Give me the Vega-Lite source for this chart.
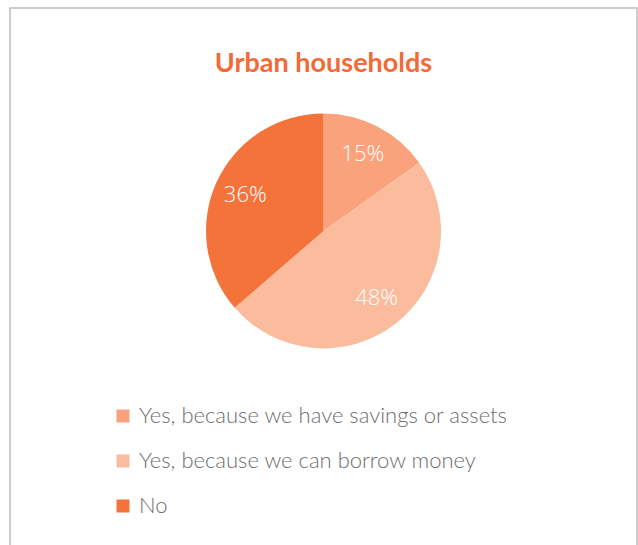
{
  "$schema": "https://vega.github.io/schema/vega-lite/v6.json",
  "width": 627,
  "height": 560,
  "autosize": {"type": "none"},
  "padding": {"left": 10, "top": 8, "right": 1, "bottom": 0},
  "background": "white",
  "title": {
    "text": "Urban households",
    "orient": "top",
    "anchor": "middle",
    "offset": -91,
    "baseline": "alphabetic",
    "font": "Lato",
    "fontSize": 27,
    "fontWeight": "bold",
    "color": "#F26A37"
  },
  "config": {
    "view": {"stroke": "#BDBDBD", "strokeWidth": 1.5},
    "legend": {
      "orient": "none",
      "legendX": 102,
      "legendY": 397,
      "title": null,
      "symbolType": "square",
      "symbolSize": 169,
      "symbolStrokeWidth": 0,
      "labelFont": "Lato",
      "labelFontWeight": 300,
      "labelFontSize": 22,
      "labelColor": "#6E6E6E",
      "labelOffset": 5,
      "rowPadding": 23,
      "labelLimit": 500
    }
  },
  "data": {
    "values": [
      {"answer": "Yes, because we have savings or assets", "pct": 15, "label": "15%", "order": 1},
      {"answer": "Yes, because we can borrow money", "pct": 48, "label": "48%", "order": 2},
      {"answer": "No", "pct": 36, "label": "36%", "order": 3}
    ]
  },
  "encoding": {
    "theta": {"field": "pct", "type": "quantitative", "stack": true},
    "order": {"field": "order", "type": "quantitative"},
    "x": {"datum": 0.5, "type": "quantitative", "scale": {"domain": [0, 1]}, "axis": null},
    "y": {"datum": 0.602, "type": "quantitative", "scale": {"domain": [0, 1]}, "axis": null}
  },
  "layer": [
    {
      "mark": {"type": "arc", "radius": 117.5, "stroke": null},
      "encoding": {
        "color": {
          "field": "answer",
          "type": "nominal",
          "sort": ["Yes, because we have savings or assets", "Yes, because we can borrow money", "No"],
          "scale": {
            "domain": ["Yes, because we have savings or assets", "Yes, because we can borrow money", "No"],
            "range": ["#F9A27B", "#FBBC9E", "#F4733B"]
          }
        }
      }
    },
    {
      "mark": {"type": "text", "radius": 86, "font": "Open Sans", "fontWeight": 300, "fontSize": 22, "fill": "white", "baseline": "middle", "align": "center"},
      "encoding": {
        "text": {"field": "label", "type": "nominal"}
      }
    }
  ]
}
